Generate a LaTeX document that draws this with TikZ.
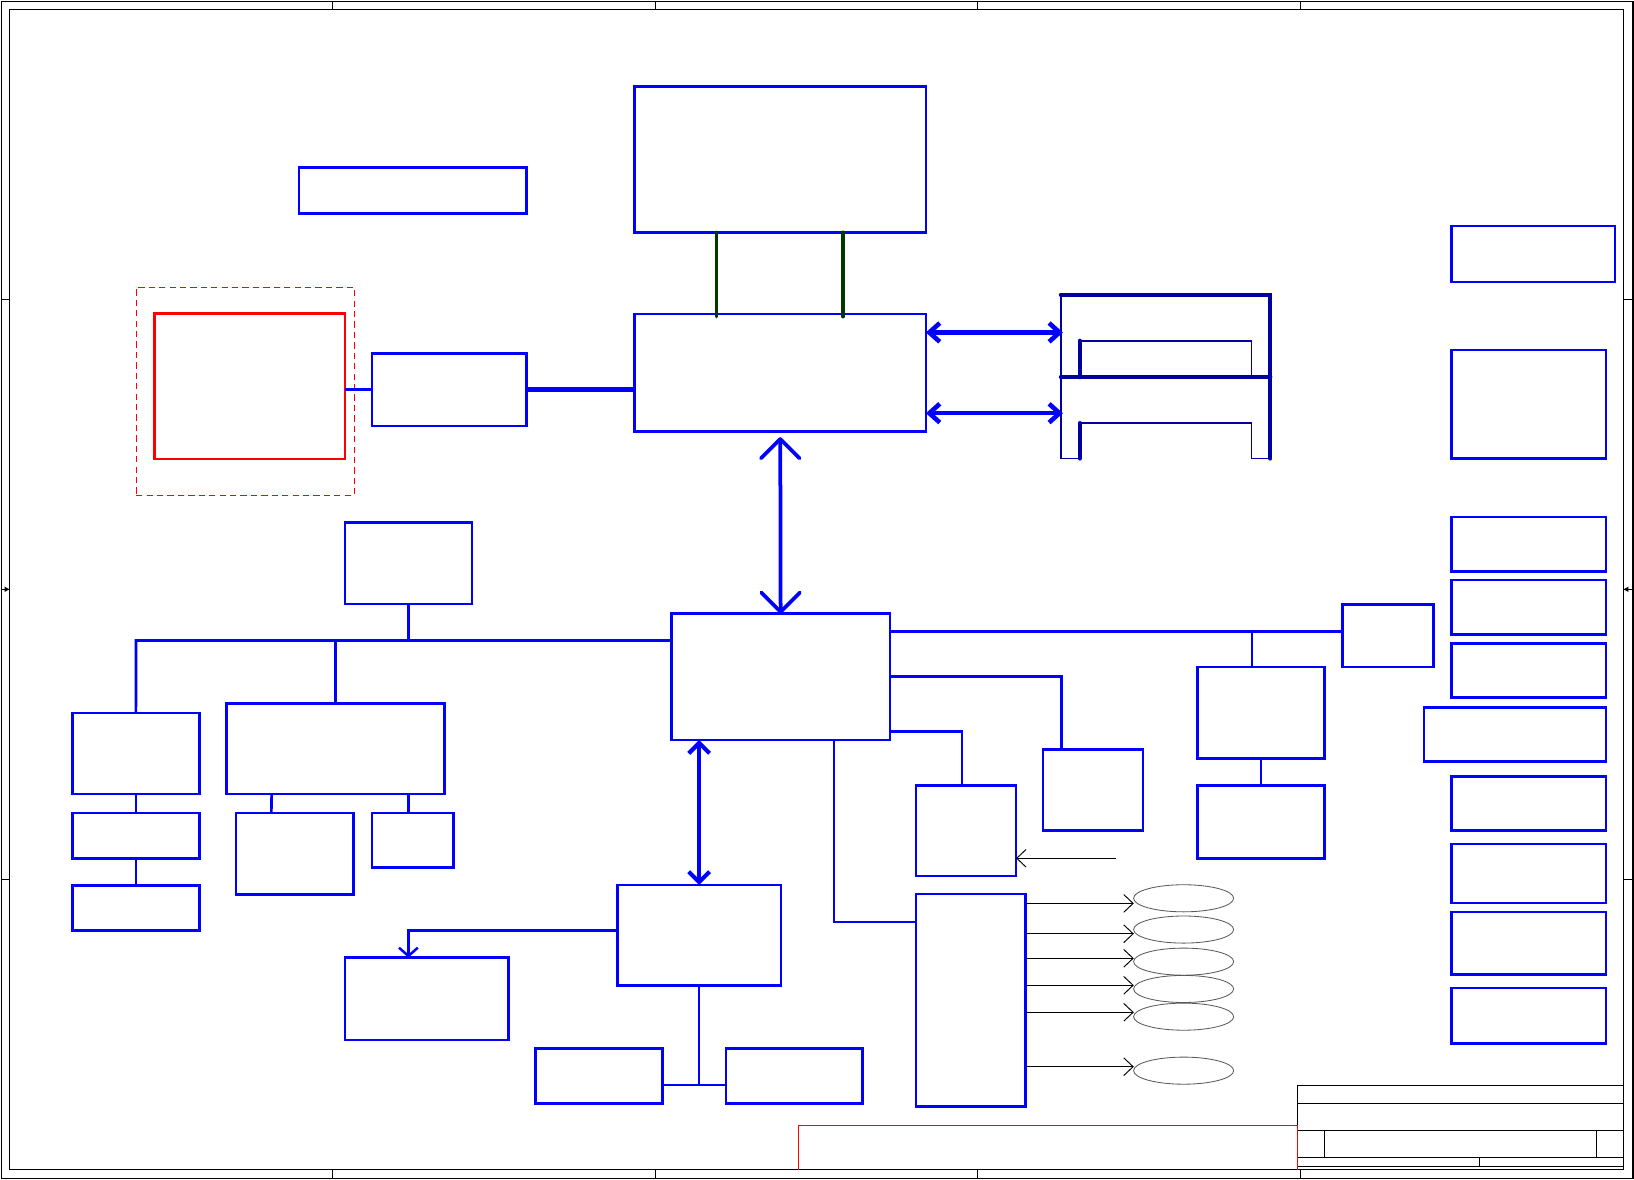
\documentclass[tikz,border=0pt]{standalone}
\usetikzlibrary{arrows.meta,calc,shapes.geometric}
\definecolor{bl}{RGB}{0,0,255}
\definecolor{mynavy}{RGB}{0,0,160}
\definecolor{dkgreen}{RGB}{0,56,0}
\newcommand\mkbox[6][]{\node[blk,#1,minimum width={(#4)-(#2)},minimum height={(#5)-(#3)}] (#6) at ({((#2)+(#4))/2},{((#3)+(#5))/2}) {};}
\begin{document}
\begin{tikzpicture}[x=1pt,y=-1pt,
  blk/.style={draw=bl,line width=2.5pt,inner sep=0pt,outer sep=0pt,rectangle},
  frm/.style={draw=black,line width=1pt},
  bus/.style={draw=bl,line width=2.5pt},
  thinbus/.style={draw=bl,line width=1.8pt},
  fat/.style={draw=bl,line width=4.4pt},
  bigshaft/.style={draw=bl,line width=3.6pt,line cap=round,line join=round},
  memarr/.style={draw=bl,line width=4.4pt,>={Straight Barb[length=10pt,width=18pt]},<->},
  midarr/.style={draw=bl,line width=4pt,>={Straight Barb[length=10pt,width=20pt]},<->},
  smarr/.style={draw=bl,line width=2.4pt,-{Straight Barb[length=8pt,width=18pt]}},
  thinarr/.style={draw=black,line width=0.9pt,-{Straight Barb[length=9pt,width=17pt]}},
  ell/.style={ellipse,draw=black!65,line width=0.8pt,minimum width=96pt,minimum height=26pt,inner sep=0pt,outer sep=0pt},
  memthick/.style={draw=mynavy,line width=4pt,line cap=round},
  memthin/.style={draw=mynavy,line width=1.6pt},
  grn/.style={draw=dkgreen,line width=3.6pt,line cap=round}]
\useasboundingbox (0,0) rectangle (1568,1132);
% ---------- frame ----------
\draw[frm] (1.5,1) rectangle (1567,1131);
\draw[frm] (9,9) rectangle (1558,1122.7);
\foreach \xx in {319,629,938,1248}{
  \draw[frm] (\xx,1) -- (\xx,9);
  \draw[frm] (\xx,1122.7) -- (\xx,1131);}
\foreach \yy in {287.7,843.6}{
  \draw[frm] (1.5,\yy) -- (9,\yy);
  \draw[frm] (1558,\yy) -- (1567,\yy);}
\draw[frm] (1.5,565.5) -- (9,565.5);
\fill[black] (9,565.5) -- (4.5,563) -- (4.5,568) -- cycle;
\draw[frm] (1558,565.5) -- (1567,565.5);
\fill[black] (1558,565.5) -- (1562.5,563) -- (1562.5,568) -- cycle;
% ---------- title block ----------
\draw[frm] (1244.7,1041.5) rectangle (1557.8,1119.2);
\draw[frm] (1244.7,1058.8) -- (1557.8,1058.8);
\draw[frm] (1244.7,1084.6) -- (1557.8,1084.6);
\draw[frm] (1244.7,1110.4) -- (1557.8,1110.4);
\draw[frm] (1270.6,1084.6) -- (1270.6,1110.4);
\draw[frm] (1531.7,1084.6) -- (1531.7,1110.4);
\draw[frm] (1419.4,1110.4) -- (1419.4,1119.2);
\draw[draw=red,line width=1pt] (766,1122.7) -- (766,1080) -- (1244.7,1080) -- (1244.7,1122.7);
% ---------- boxes ----------
\mkbox{609}{83.2}{888.5}{223}{cpu}
\mkbox{287}{161}{505}{205}{tb}
\node[draw=red,dash pattern=on 6pt off 4pt,line width=1pt,inner sep=0pt,outer sep=0pt,
  minimum width=209.2pt,minimum height=199.6pt] (dsh) at (235.3,375.5) {};
\mkbox[draw=red]{148.2}{301}{331}{440.5}{red}
\mkbox{357}{339}{505.4}{408.8}{bb}
\mkbox{609}{301.3}{888.5}{414.2}{nb}
\mkbox{644.2}{588.6}{854}{710.1}{sb}
\mkbox{331}{501.2}{452.8}{579.6}{g}
\mkbox{69.5}{684.2}{191.4}{762}{A}
\mkbox{69.5}{780.2}{191.4}{823.7}{B}
\mkbox{69.5}{849.6}{191.4}{893}{C}
\mkbox{217.6}{675.3}{426.4}{762}{D}
\mkbox{226.6}{780.2}{339.4}{858.2}{E}
\mkbox{357}{780.2}{435.4}{832.3}{F}
\mkbox{592.5}{849.3}{749.3}{945.9}{La}
\mkbox{331}{919}{487.8}{998}{Lb}
\mkbox{513.9}{1006}{635.7}{1058.8}{Lc}
\mkbox{696.7}{1006}{827.5}{1058.8}{Ld}
\mkbox{879}{753.5}{975}{840.6}{P}
\mkbox{1001}{719}{1096.7}{797}{Q}
\mkbox{879}{858}{984.3}{1062}{T}
\mkbox{1149}{640}{1271}{727.7}{Ra}
\mkbox{1149}{754}{1271}{823.6}{Rb}
\mkbox{1288}{580}{1375.7}{640}{S}
\mkbox{1393}{217}{1549.8}{270.6}{c1}
\mkbox{1393}{335.7}{1541.2}{440.2}{c2}
\mkbox{1393}{496}{1541.2}{548.4}{c3}
\mkbox{1393}{556.6}{1541.2}{608.7}{c4}
\mkbox{1393}{617.3}{1541.2}{669.6}{c5}
\mkbox{1366.5}{678.7}{1541.2}{730.5}{c6}
\mkbox{1393}{745}{1541.2}{797.2}{c7}
\mkbox{1393}{810}{1541.2}{866.6}{c8}
\mkbox{1393}{875.3}{1541.2}{935}{c9}
\mkbox{1393}{948}{1541.2}{1001.3}{c10}
% ---------- memory slots ----------
\coordinate (mTL) at (1018,283);
\coordinate (mTR) at (1219,283);
\coordinate (mBR) at (1219,440);
\coordinate (mBL) at (1018,440);
\draw[memthick] (mTL) -- (mTR) -- (mBR);
\draw[memthick] (1018,362) -- (1219,362);
\draw[memthick] (1036,327) -- (1036,362);
\draw[memthick] (1036,406) -- (1036,440);
\draw[memthin] (mTL) -- (mBL) -- (1036,440);
\draw[memthin] (1036,327) -- (1201,327) -- (1201,362);
\draw[memthin] (1036,406) -- (1201,406) -- (1201,440) -- (mBR);
\coordinate (m1) at (1020,319);
\coordinate (m2) at (1020,396.5);
\draw[memarr] (nb.east |- m1) -- (m1);
\draw[memarr] (nb.east |- m2) -- (m2);
% ---------- cpu - nb ----------
\draw[grn,shorten >=-2.5pt] ($(cpu.south west)!0.281!(cpu.south east)$) -- ($(nb.north west)!0.281!(nb.north east)$);
\draw[grn,shorten >=-2.5pt] ($(cpu.south west)!0.716!(cpu.south east)$) -- ($(nb.north west)!0.716!(nb.north east)$);
% ---------- left of nb ----------
\draw[bus] (red.east |- bb.west) -- (bb.west);
\draw[fat] (bb.east) -- (bb.east -| nb.west);
% ---------- nb - sb ----------
\coordinate (nbs) at ($(nb.south)+(0,7)$);
\coordinate (sbn) at ($(sb.north)+(0,-1.5)$);
\draw[bigshaft] (nbs) -- (sbn);
\draw[bigshaft] ($(nbs)+(-18.5,18.5)$) -- (nbs) -- ($(nbs)+(18.5,18.5)$);
\draw[bigshaft] ($(sbn)+(-18.5,-18.5)$) -- (sbn) -- ($(sbn)+(18.5,-18.5)$);
% ---------- left bus ----------
\coordinate (busL) at (130.5,614.6);
\draw[bus] (sb.west |- busL) -- (busL) -- (A.north);
\draw[bus] (D.north) -- (D.north |- busL);
\draw[bus] (g.south) -- (g.south |- busL);
\draw[bus] (A.south) -- (B.north);
\draw[bus] (B.south) -- (C.north);
\draw[bus] ($(D.south west)!0.206!(D.south east)$) -- ($(E.north west)!0.30!(E.north east)$);
\draw[bus] ($(D.south west)!0.835!(D.south east)$) -- ($(F.north west)!0.446!(F.north east)$);
% ---------- right of sb ----------
\coordinate (j1) at (1201.5,605.8);
\draw[bus] (sb.east |- j1) -- (S.west |- j1);
\draw[bus] (j1) -- (j1 |- Ra.north);
\draw[bus] (Ra.south) -- (Rb.north);
\coordinate (j2) at (1018.5,649.3);
\draw[bus] (sb.east |- j2) -- (j2) -- (j2 |- Q.north);
\coordinate (j3) at (923,701.8);
\draw[bus] (sb.east |- j3) -- (j3) -- (j3 |- P.north);
\coordinate (j4) at (800.3,884.4);
\draw[thinbus] (sb.south -| j4) -- (j4) -- (T.west |- j4);
\coordinate (pin) at (1071,823.6);
\draw[thinarr] (pin) -- (P.east |- pin);
% ---------- ellipses ----------
\node[ell] (e1) at (1135.8,862) {};
\node[ell] (e2) at (1135.8,892) {};
\node[ell] (e3) at (1135.8,922.8) {};
\node[ell] (e4) at (1135.8,949) {};
\node[ell] (e5) at (1135.8,975.6) {};
\node[ell] (e6) at (1135.8,1027.4) {};
\foreach \k/\yy in {1/866.9,2/896,3/919.6,4/945.5,5/971.4,6/1023.6}{
  \coordinate (a\k) at (1088,\yy);
  \draw[thinarr] (T.east |- a\k) -- (a\k);}
% ---------- lower ----------
\draw[midarr] (La.north |- sb.south) -- (La.north);
\coordinate (j5) at (391.9,892.8);
\draw[smarr] (La.west |- j5) -- (j5) -- (j5 |- Lb.north);
\coordinate (j6) at (670.9,1041);
\draw[thinbus] (La.south) -- (j6);
\draw[thinbus] (Lc.east |- j6) -- (Ld.west |- j6);
\end{tikzpicture}
\end{document}
